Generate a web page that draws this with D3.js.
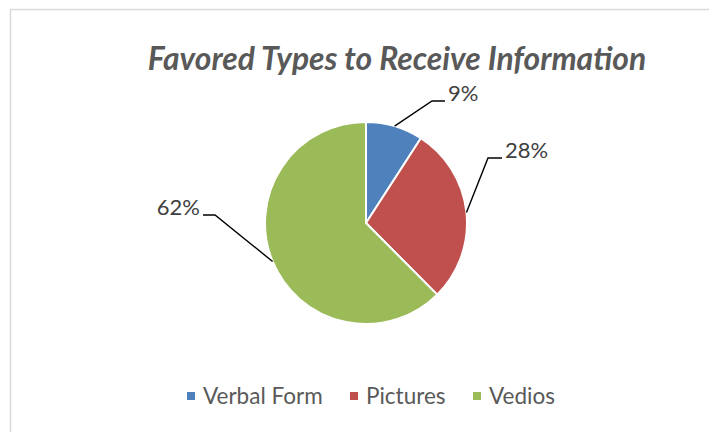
<!DOCTYPE html>
<html>
<head>
<meta charset="utf-8">
<script src="https://cdn.jsdelivr.net/npm/d3@7"></script>
<style>
  body { margin: 0; background: #fff; }
  svg { display: block; }
</style>
</head>
<body>
<div id="chart"></div>
<script>
// Favored types pie chart

// Data
let categories = ['Verbal Form', 'Pictures', 'Vedios'];
let values = [9.1, 28.3, 62.2];
let colors = ['#4F81BD', '#C0504D', '#9BBB59'];
let titleText = 'Favored Types to Receive Information';

let W = 709, H = 432;
let cx = 366, cy = 223, radius = 101;

let svg = d3.select('#chart')
  .append('svg')
  .attr('width', W)
  .attr('height', H);

// chart area border (runs off the right and bottom)
svg.append('rect')
  .attr('x', 10.5)
  .attr('y', 9.5)
  .attr('width', 740)
  .attr('height', 460)
  .attr('fill', '#fff')
  .attr('stroke', '#D9D9D9')
  .attr('stroke-width', 1.5);

// title
svg.append('text')
  .attr('x', 397)
  .attr('y', 70)
  .attr('text-anchor', 'middle')
  .attr('fill', '#595959')
  .style('font-family', 'Lato, "Open Sans", sans-serif')
  .style('font-size', '31.8px')
  .style('font-weight', 'bold')
  .style('font-style', 'italic')
  .text(titleText);

let total = d3.sum(values);
let pie = d3.pie().sort(null).value(function(d) { return d; });
let arcs = pie(values);

let arc = d3.arc().innerRadius(0).outerRadius(radius);

let g = svg.append('g')
  .attr('transform', 'translate(' + cx + ',' + cy + ')');

g.selectAll('.slice')
  .data(arcs)
  .enter().append('path')
  .attr('class', 'slice')
  .attr('d', arc)
  .attr('fill', function(d, i) { return colors[i]; })
  .attr('stroke', '#fff')
  .attr('stroke-width', 2)
  .attr('stroke-linejoin', 'round');

// leader lines and labels: elbow offset from centre, horizontal length, side
let labelPos = [
  {ex: 66, ey: -122, len: 13, side: 1},
  {ex: 122, ey: -65, len: 14, side: 1},
  {ex: -151, ey: -8, len: 12, side: -1}
];

function edgePoint(d) {
  let a = (d.startAngle + d.endAngle) / 2;
  return [radius * Math.sin(a), -radius * Math.cos(a)];
}

g.selectAll('.leader')
  .data(arcs)
  .enter().append('polyline')
  .attr('class', 'leader')
  .attr('fill', 'none')
  .attr('stroke', '#000')
  .attr('stroke-width', 1.4)
  .attr('points', function(d, i) {
    let p = edgePoint(d);
    let l = labelPos[i];
    return [p, [l.ex, l.ey], [l.ex + l.side * l.len, l.ey]].join(' ');
  });

g.selectAll('.label')
  .data(arcs)
  .enter().append('text')
  .attr('class', 'label')
  .attr('x', function(d, i) {
    let l = labelPos[i];
    return l.ex + l.side * (l.len + 3);
  })
  .attr('y', function(d, i) { return labelPos[i].ey; })
  .attr('text-anchor', function(d, i) { return labelPos[i].side > 0 ? 'start' : 'end'; })
  .attr('fill', '#404040')
  .style('font-family', 'Lato, "Open Sans", sans-serif')
  .style('font-size', '22px')
  .text(function(d) { return Math.round(d.value / total * 100) + '%'; });

// legend
let legendX = [187, 350, 473];
let legend = svg.selectAll('.legend')
  .data(categories)
  .enter().append('g')
  .attr('class', 'legend')
  .attr('transform', function(d, i) { return 'translate(' + legendX[i] + ',396)'; });

legend.append('rect')
  .attr('x', 0)
  .attr('y', -4)
  .attr('width', 8)
  .attr('height', 8)
  .attr('fill', function(d, i) { return colors[i]; });

legend.append('text')
  .attr('x', 16)
  .attr('y', 7.5)
  .attr('fill', '#595959')
  .style('font-family', 'Lato, "Open Sans", sans-serif')
  .style('font-size', '22.5px')
  .text(function(d) { return d; });
</script>
</body>
</html>
